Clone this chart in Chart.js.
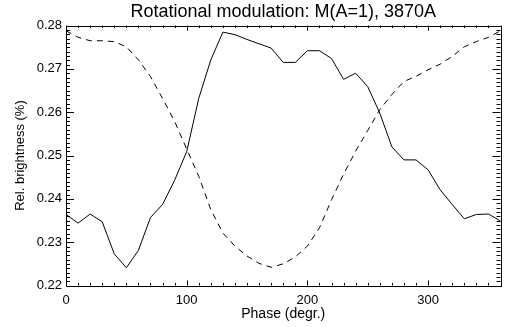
<!DOCTYPE html>
<html>
<head>
<meta charset="utf-8">
<script src="https://cdn.jsdelivr.net/npm/chart.js@4/dist/chart.umd.min.js"></script>
<style>
    html, body { margin: 0; padding: 0; background: #fff; }
    canvas { display: block; }
</style>
</head>
<body>
<canvas id="c" width="507" height="327"></canvas>
<script>
// --- Data ---
const phase = [0, 10, 20, 30, 40, 50, 60, 70, 80, 90, 100, 110, 120, 130, 140, 150, 160, 170, 180,
    190, 200, 210, 220, 230, 240, 250, 260, 270, 280, 290, 300, 310, 320, 330, 340, 350, 360];
const solidSeries = [0.2364, 0.2344, 0.2365, 0.2347, 0.2273, 0.2241, 0.2281, 0.2357, 0.2387, 0.2443,
    0.2509, 0.2632, 0.2721, 0.2785, 0.2779, 0.2768, 0.2758, 0.2748, 0.2715, 0.2715, 0.2742, 0.2742,
    0.2724, 0.2676, 0.2690, 0.2659, 0.2598, 0.2520, 0.2490, 0.2490, 0.2467, 0.2421, 0.2387, 0.2354,
    0.2364, 0.2365, 0.2349];
const dashedSeries = [0.2788, 0.2773, 0.2765, 0.2765, 0.2763, 0.2751, 0.2721, 0.2682, 0.2632, 0.2579,
    0.2515, 0.2452, 0.2375, 0.2321, 0.2291, 0.2268, 0.2251, 0.2242, 0.2250, 0.2266, 0.2291, 0.2333,
    0.2398, 0.2457, 0.2510, 0.2558, 0.2606, 0.2641, 0.2671, 0.2683, 0.2698, 0.2711, 0.2729, 0.2751,
    0.2763, 0.2773, 0.2788];
const xTicks = [0, 100, 200, 300];
const yTicks = [0.22, 0.23, 0.24, 0.25, 0.26, 0.27, 0.28];

const TITLE = 'Rotational modulation: M(A=1), 3870A';
const FONT = "'Liberation Sans', Helvetica, Arial, sans-serif";

// IDL-style frame: box on all four sides with inward major/minor ticks.
const framePlugin = {
    id: 'frame',
    afterDraw(chart) {
        const { ctx, chartArea: a, scales } = chart;
        const xs = scales.x, ys = scales.y;
        ctx.save();
        ctx.strokeStyle = '#000';
        ctx.lineWidth = 1;
        ctx.strokeRect(Math.round(a.left) + 0.5, Math.round(a.top) + 0.5,
            Math.round(a.right - a.left), Math.round(a.bottom - a.top));

        ctx.beginPath();
        const vtick = (v, len) => {
            const x = Math.round(xs.getPixelForValue(v)) + 0.5;
            ctx.moveTo(x, a.bottom); ctx.lineTo(x, a.bottom - len);
            ctx.moveTo(x, a.top); ctx.lineTo(x, a.top + len);
        };
        const htick = (v, len) => {
            const y = Math.round(ys.getPixelForValue(v)) + 0.5;
            ctx.moveTo(a.left, y); ctx.lineTo(a.left + len, y);
            ctx.moveTo(a.right, y); ctx.lineTo(a.right - len, y);
        };
        for (let v = xs.min; v <= xs.max + 1e-9; v += 10) vtick(v, v % 100 === 0 ? 5 : 2.5);
        for (let i = 0; i <= 60; i++) htick(ys.min + i * 0.001, i % 10 === 0 ? 8 : 4);
        ctx.stroke();

        ctx.fillStyle = '#000';
        ctx.font = `18px ${FONT}`;
        ctx.textAlign = 'center';
        ctx.textBaseline = 'middle';
        ctx.fillText(TITLE, (a.left + a.right) / 2, 12);
        ctx.restore();
    },
};

new Chart(document.getElementById('c'), {
    type: 'line',
    data: {
        datasets: [
            {
                data: phase.map((p, i) => ({ x: p, y: solidSeries[i] })),
                borderColor: '#000',
                borderWidth: 1,
                pointRadius: 0,
                tension: 0,
            },
            {
                data: phase.map((p, i) => ({ x: p, y: dashedSeries[i] })),
                borderColor: '#000',
                borderWidth: 1,
                borderDash: [6, 5],
                pointRadius: 0,
                tension: 0,
            },
        ],
    },
    options: {
        responsive: false,
        animation: false,
        layout: { padding: { top: 25.6, right: 6.5, left: 0, bottom: 0 } },
        plugins: { legend: { display: false }, tooltip: { enabled: false } },
        scales: {
            x: {
                type: 'linear',
                min: 0,
                max: 360,
                afterBuildTicks: (s) => { s.ticks = xTicks.map((v) => ({ value: v })); },
                afterFit: (s) => { s.height = 41.5; },
                grid: { display: false, drawTicks: false },
                border: { display: false },
                ticks: { color: '#000', font: { family: FONT, size: 13 }, padding: 7, maxRotation: 0 },
                title: {
                    display: true, text: 'Phase (degr.)', color: '#000',
                    font: { family: FONT, size: 14 }, padding: { top: 0, bottom: 4 },
                },
            },
            y: {
                type: 'linear',
                min: 0.22,
                max: 0.28,
                afterBuildTicks: (s) => { s.ticks = yTicks.map((v) => ({ value: v })); },
                afterFit: (s) => { s.width = 66; },
                grid: { display: false, drawTicks: false },
                border: { display: false },
                ticks: {
                    color: '#000', font: { family: FONT, size: 13 }, padding: 4,
                    callback: (v) => v.toFixed(2),
                },
                title: {
                    display: true, text: 'Rel. brightness (%)', color: '#000',
                    font: { family: FONT, size: 13 }, padding: { top: 13, bottom: 0 },
                },
            },
        },
    },
    plugins: [framePlugin],
});
</script>
</body>
</html>
